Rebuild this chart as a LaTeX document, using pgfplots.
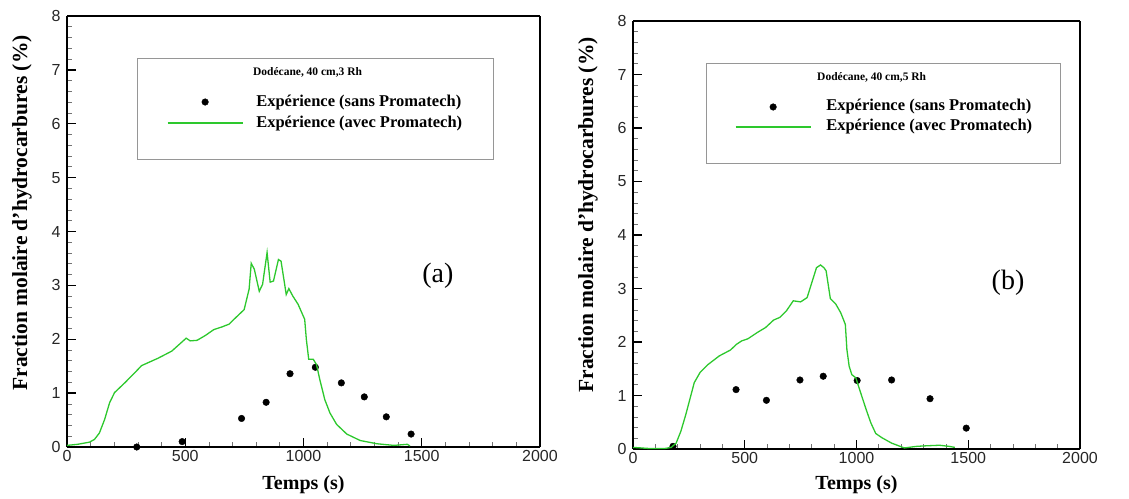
\documentclass[border=0pt]{standalone}
\usepackage{fontspec}
\setmainfont{Liberation Serif}
\setsansfont{Liberation Sans}
\usepackage{pgfplots}
\pgfplotsset{compat=1.18}
\definecolor{lgreen}{RGB}{45,200,45}
\definecolor{boxgray}{RGB}{150,150,150}

\pgfplotsset{
  base/.style={
    scale only axis,
    xmin=0, xmax=2000, ymin=0, ymax=8,
    xtick={0,500,1000,1500,2000},
    ytick={0,1,2,3,4,5,6,7,8},
    minor x tick num=4, minor y tick num=4,
    xtick pos=bottom, ytick pos=left, tick align=inside,
    separate axis lines,
    axis line style={line width=1.8pt, black},
    major tick length=9pt, minor tick length=5pt,
    tick style={line width=1.4pt, black},
    minor tick style={line width=0.8pt, black!55},
  },
  nums/.style={
    /pgf/number format/assume math mode=true,
    /pgf/number format/1000 sep={},
    ticklabel style={font=\sffamily\fontsize{16}{16}\selectfont, text=black!85},
    yticklabel style={xshift=-3pt},
  },
  dataaxis/.style={
    scale only axis, hide axis, clip=false,
    xmin=0, xmax=2000, ymin=0, ymax=8,
  },
  scat/.style={only marks, mark=*, mark size=3.3pt, black,
    legend image code/.code={\draw[mark repeat=2,mark phase=2,##1] plot coordinates {(0pt,0pt) (37.5pt,0pt) (75pt,0pt)};}},
  gline/.style={lgreen, line width=1.3pt, mark=none,
    legend image code/.code={\draw[##1] (0pt,0pt) -- (75pt,0pt);}},
}

\begin{document}
\begin{tikzpicture}
\path[use as bounding box] (0pt,0pt) rectangle (1129pt,498pt);

% ---------- (a) frame + points ----------
\begin{axis}[base, nums, width=473pt, height=431pt,
  at={(67pt,51pt)}, anchor=south west]
\addplot[scat] coordinates {
(295,0.0) (487,0.10) (738,0.53) (842,0.83) (943,1.36) (1050,1.48)
(1160,1.19) (1257,0.93) (1350,0.56) (1455,0.24)
};
\end{axis}

% ---------- (b) frame + points ----------
\begin{axis}[base, nums, width=447pt, height=428pt,
  at={(633pt,49pt)}, anchor=south west]
\addplot[scat] coordinates {
(179,0.05) (461,1.11) (597,0.91) (747,1.29) (851,1.36) (1003,1.28)
(1157,1.29) (1329,0.94) (1491,0.39)
};
\end{axis}

% ---------- (a) curve, texts, legend ----------
\begin{axis}[dataaxis,
  at={(67pt,51pt)}, anchor=south west,
  width=473pt, height=431pt,
  legend style={draw=none, fill=none, inner sep=0pt, outer sep=0pt,
    anchor=north west, at={(axis description cs:0.2114,0.819)},
    cells={anchor=west},
    nodes={inner sep=0pt, text height=12pt, text depth=4pt,
      font=\bfseries\fontsize{16.5}{16.5}\selectfont},
    row sep=5pt,
    /tikz/every odd column/.append style={column sep=13pt}},
]
\draw[boxgray, line width=0.8pt] (axis description cs:0.148,0.9026) rectangle (axis description cs:0.9006,0.668);
\node[anchor=west, inner sep=0pt, font=\bfseries\fontsize{11.5}{11.5}\selectfont] at (axis description cs:0.393,0.870) {Dodécane, 40 cm,3 Rh};
\node[font=\fontsize{28}{28}\selectfont] at (axis description cs:0.784,0.397) {(a)};
\node[font=\bfseries\fontsize{20}{20}\selectfont] at (axis description cs:0.5,-0.0882) {Temps (s)};
\node[rotate=90, font=\bfseries\fontsize{21.5}{21.5}\selectfont] at (axis description cs:-0.0951,0.543) {Fraction molaire d’hydrocarbures (\%)};

\addlegendimage{scat}
\addlegendentry{Expérience (sans Promatech)}
\addplot[gline] coordinates {
(0,0.03) (45,0.05) (95,0.09) (116,0.14) (137,0.26) (159,0.51) (180,0.82)
(201,1.01) (244,1.19) (287,1.38) (315,1.51) (386,1.65) (443,1.78) (504,2.02)
(521,1.97) (550,1.98) (585,2.07) (621,2.18) (656,2.23) (685,2.28) (706,2.37)
(749,2.55) (770,2.93) (779,3.41) (792,3.30) (813,2.89) (827,3.02) (846,3.61)
(859,3.06) (873,3.08) (894,3.48) (905,3.45) (915,3.17) (927,2.83) (938,2.94)
(955,2.80) (977,2.65) (1005,2.37) (1012,2.00) (1022,1.63) (1041,1.63)
(1055,1.53) (1069,1.25) (1090,0.88) (1112,0.63) (1140,0.42) (1183,0.24)
(1240,0.12) (1311,0.06) (1382,0.03) (1439,0.05) (1450,0.02)
};
\addlegendentry{Expérience (avec Promatech)}
\end{axis}

% ---------- (b) curve, texts, legend ----------
\begin{axis}[dataaxis,
  at={(633pt,49pt)}, anchor=south west,
  width=447pt, height=428pt,
  legend style={draw=none, fill=none, inner sep=0pt, outer sep=0pt,
    anchor=north west, at={(axis description cs:0.2282,0.8178)},
    cells={anchor=west},
    nodes={inner sep=0pt, text height=12pt, text depth=4pt,
      font=\bfseries\fontsize{16.5}{16.5}\selectfont},
    row sep=4pt,
    /tikz/every odd column/.append style={column sep=15pt}},
]
\draw[boxgray, line width=0.8pt] (axis description cs:0.1633,0.9019) rectangle (axis description cs:0.9553,0.6682);
\node[anchor=west, inner sep=0pt, font=\bfseries\fontsize{11.5}{11.5}\selectfont] at (axis description cs:0.4116,0.869) {Dodécane, 40 cm,5 Rh};
\node[font=\fontsize{28}{28}\selectfont] at (axis description cs:0.839,0.388) {(b)};
\node[font=\bfseries\fontsize{20}{20}\selectfont] at (axis description cs:0.5,-0.0841) {Temps (s)};
\node[rotate=90, font=\bfseries\fontsize{21.5}{21.5}\selectfont] at (axis description cs:-0.1007,0.547) {Fraction molaire d’hydrocarbures (\%)};

\addlegendimage{scat}
\addlegendentry{Expérience (sans Promatech)}
\addplot[gline] coordinates {
(0,0.03) (71,0.01) (143,0.01) (171,0.03) (193,0.11) (214,0.33) (236,0.64)
(274,1.24) (300,1.43) (336,1.58) (386,1.74) (436,1.85) (464,1.96) (486,2.02)
(514,2.06) (557,2.18) (593,2.27) (629,2.41) (657,2.46) (686,2.58) (717,2.77)
(750,2.75) (779,2.83) (800,3.11) (821,3.39) (839,3.44) (854,3.39) (864,3.33)
(883,2.81) (907,2.71) (929,2.55) (950,2.33) (957,1.86) (967,1.55) (979,1.39)
(997,1.33) (1014,1.11) (1043,0.74) (1064,0.49) (1086,0.29) (1114,0.21)
(1157,0.11) (1214,0.02) (1271,0.05) (1314,0.06) (1371,0.07) (1414,0.05)
(1440,0.03)
};
\addlegendentry{Expérience (avec Promatech)}
\end{axis}
\end{tikzpicture}
\end{document}
